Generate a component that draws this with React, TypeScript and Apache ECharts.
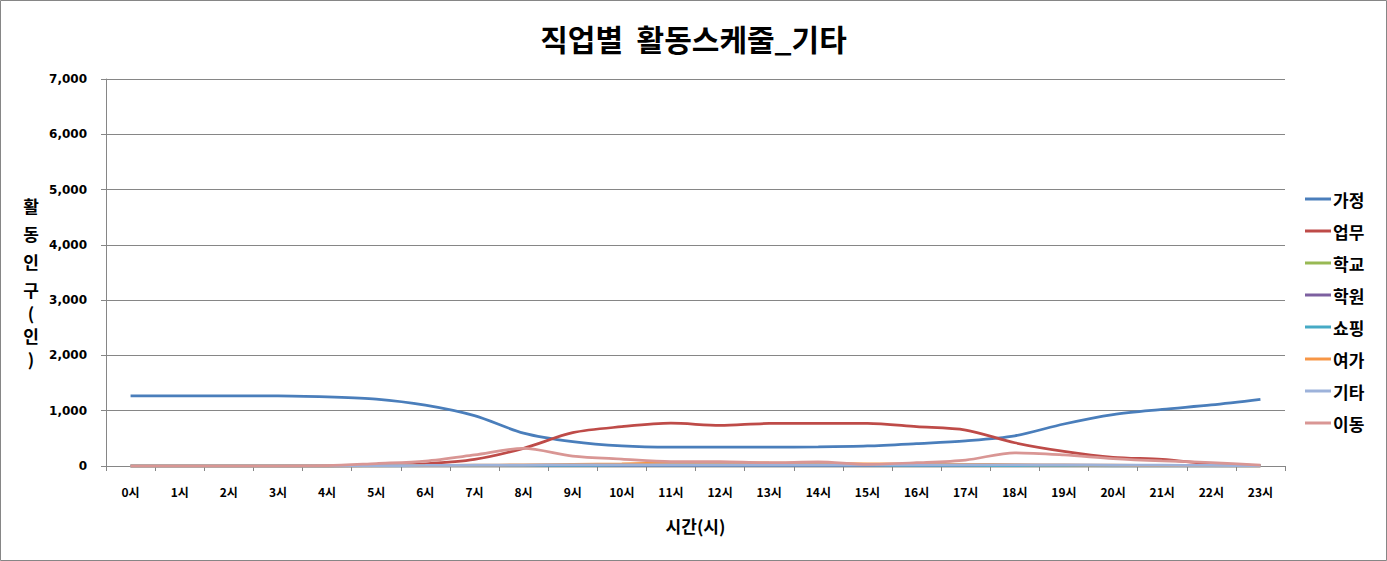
import React, { useEffect, useRef } from "react";
import * as echarts from "echarts";

const hours = ["0시","1시","2시","3시","4시","5시","6시","7시","8시","9시","10시","11시","12시","13시","14시","15시","16시","17시","18시","19시","20시","21시","22시","23시"];
const seriesNames = ["가정","업무","학교","학원","쇼핑","여가","기타","이동"];
const home = [1270,1270,1270,1270,1250,1210,1100,910,595,440,362,340,340,340,345,362,405,455,545,760,930,1025,1105,1206];
const work = [0,0,0,0,0,10,40,120,320,603,711,775,735,770,770,770,711,650,420,265,157,120,40,12];
const school = [0,0,0,0,0,0,0,0,0,0,0,0,0,0,0,0,0,0,0,0,0,0,0,0];
const academy = [0,0,0,0,0,0,0,0,0,0,0,0,0,0,0,0,0,0,0,0,0,0,0,0];
const shopping = [0,0,0,0,0,2,5,8,10,12,14,15,15,15,15,14,12,10,8,6,4,3,2,1];
const leisure = [0,0,0,0,0,3,8,15,20,30,40,55,60,55,50,40,35,30,25,20,15,10,5,2];
const etc = [0,0,0,0,0,5,10,15,18,20,22,22,22,22,22,22,22,22,22,20,18,14,10,5];
const move = [0,0,0,0,5,45,90,200,320,180,125,80,78,60,75,30,60,108,238,200,135,92,62,15];
const yTicks = [0,1000,2000,3000,4000,5000,6000,7000];
const colors = ["#4A7EBB","#BE4B48","#98B954","#7D60A0","#46AAC5","#F79646","#9DB2DA","#D99694"];

const FONT = "'Noto Sans CJK KR', 'Noto Sans', sans-serif";
const NUMFONT = "'DejaVu Sans', 'Noto Sans CJK KR', sans-serif";

export default function App() {
  const ref = useRef<HTMLDivElement>(null);
  useEffect(() => {
    document.body.style.margin = "0";
    const chart = echarts.init(ref.current!, undefined, { renderer: "svg" });
    const datas = [home, work, school, academy, shopping, leisure, etc, move];
    chart.setOption({
      animation: false,
      backgroundColor: "#ffffff",
      color: colors,
      textStyle: { fontFamily: FONT },
      title: {
        text: "직업별  활동스케줄_기타",
        left: "center",
        top: 18,
        textStyle: { fontFamily: FONT, fontSize: 30, fontWeight: "bold", color: "#000" },
      },
      legend: {
        orient: "vertical",
        left: 1300,
        top: 185,
        icon: "rect",
        itemWidth: 26,
        itemHeight: 3,
        itemGap: 14,
        textStyle: { fontFamily: FONT, fontSize: 17, fontWeight: "bold", color: "#000", lineHeight: 18, padding: [0, 0, 0, -3] },
        data: seriesNames,
      },
      grid: { left: 106, right: 102, top: 79, bottom: 95, containLabel: false },
      xAxis: {
        type: "category",
        data: hours,
        boundaryGap: true,
        axisLine: { lineStyle: { color: "#868686" } },
        axisTick: { show: true, length: 5, lineStyle: { color: "#868686" } },
        axisLabel: { color: "#000", fontFamily: FONT, fontSize: 12, fontWeight: "bold", margin: 19, interval: 0 },
        name: "시간(시)",
        nameLocation: "middle",
        nameGap: 51,
        nameTextStyle: { color: "#000", fontFamily: FONT, fontSize: 17, fontWeight: "bold" },
      },
      yAxis: {
        type: "value",
        min: yTicks[0],
        max: yTicks[yTicks.length - 1],
        interval: 1000,
        axisLine: { show: true, lineStyle: { color: "#868686" } },
        axisTick: { show: true, length: 5, lineStyle: { color: "#868686" } },
        splitLine: { lineStyle: { color: "#868686", width: 1 } },
        axisLabel: {
          color: "#000", fontFamily: NUMFONT, fontSize: 12, fontWeight: "bold", margin: 19,
          formatter: (v: number) => v.toLocaleString("en-US"),
        },
      },
      graphic: [
        {
          type: "rect",
          shape: { x: 0.5, y: 0.5, width: 1386, height: 560 },
          style: { fill: "none", stroke: "#868686", lineWidth: 1 },
          silent: true,
        },
        {
          type: "text",
          x: 31,
          y: 191,
          style: {
            text: "{c|활}\n{c|동}\n{c|인}\n{c|구}\n{p|(}\n{c|인}\n{p|)}",
            align: "center",
            rich: {
              c: { fontFamily: FONT, fontSize: 17, fontWeight: "bold", fill: "#000", lineHeight: 28 },
              p: { fontFamily: FONT, fontSize: 17, fontWeight: "bold", fill: "#000", lineHeight: 18 },
            },
          },
        },
      ],
      series: seriesNames.map((name, i) => ({
        name,
        type: "line",
        data: datas[i],
        smooth: 0.3,
        symbol: "none",
        lineStyle: { width: 2.75, color: colors[i] },
        itemStyle: { color: colors[i] },
      })),
    });
    return () => chart.dispose();
  }, []);
  return <div ref={ref} style={{ width: 1387, height: 561 }} />;
}
